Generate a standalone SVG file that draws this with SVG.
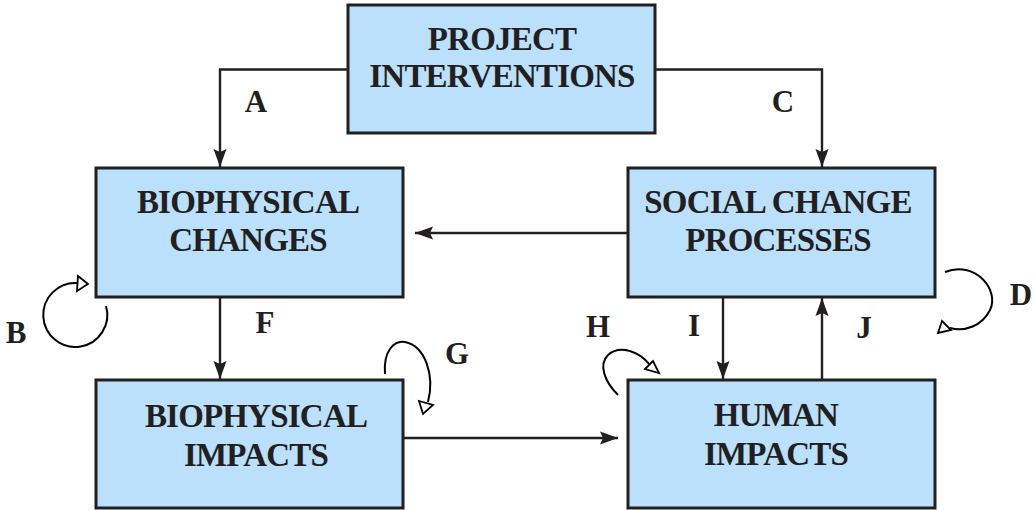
<svg xmlns="http://www.w3.org/2000/svg" width="1035" height="510" viewBox="0 0 1035 510">
<style>
.box{fill:#bae0fc;stroke:#231f20;stroke-width:3}
.t{font-family:"Liberation Serif","Times New Roman",serif;font-weight:bold;font-size:33px;letter-spacing:-0.8px;fill:#231f20;text-anchor:middle}
.lbl{font-family:"Liberation Serif","Times New Roman",serif;font-weight:bold;font-size:31px;fill:#231f20;text-anchor:middle}
.ln{fill:none;stroke:#231f20;stroke-width:2.4}
.cv{fill:none;stroke:#000;stroke-width:2}
.oh{fill:#fff;stroke:#000;stroke-width:1.8;stroke-linejoin:miter}
</style>
<defs>
<marker id="ah" markerUnits="userSpaceOnUse" markerWidth="18" markerHeight="13" refX="18" refY="6.5" orient="auto" overflow="visible">
<path d="M0,0 L18,6.5 L0,13 L3,6.5 z" fill="#231f20"/>
</marker>
</defs>
<g id="connectors">
<path class="ln" d="M348,69.5 H220 V167" marker-end="url(#ah)"/>
<path class="ln" d="M655,69.5 H822 V167" marker-end="url(#ah)"/>
<path class="ln" d="M628,233 H415" marker-end="url(#ah)"/>
<path class="ln" d="M220,297 V379" marker-end="url(#ah)"/>
<path class="ln" d="M403,438 H618" marker-end="url(#ah)"/>
<path class="ln" d="M723,297 V379" marker-end="url(#ah)"/>
<path class="ln" d="M822,380 V298" marker-end="url(#ah)"/>
<g id="loopB"><path class="cv" d="M106,306 A32,32 0 1 1 77,283"/><polygon class="oh" points="78,276 88,284 77,291"/></g>
<g id="loopD"><path class="cv" d="M945,272 C975,260 1000,290 990,310 C982,326 965,332 950,328"/><polygon class="oh" points="942,321 938,333 951,330"/></g>
<g id="loopG"><path class="cv" d="M385,374 C383,350 395,340 405,342 C425,346 435,375 428,402"/><polygon class="oh" points="419,401 423,414 433,405"/></g>
<g id="loopH"><path class="cv" d="M618,395 C605,382 598,365 608,355 C620,344 640,352 650,365"/><polygon class="oh" points="645,369 653,361 659,373"/></g>
</g>
<g id="labels">
<text class="lbl" x="256" y="112">A</text>
<text class="lbl" x="783" y="112">C</text>
<text class="lbl" x="16" y="343">B</text>
<text class="lbl" x="1021" y="305">D</text>
<text class="lbl" x="265" y="333">F</text>
<text class="lbl" x="457" y="364">G</text>
<text class="lbl" x="598" y="337">H</text>
<text class="lbl" x="694" y="336">I</text>
<text class="lbl" x="864" y="338">J</text>
</g>
<g id="project">
<rect class="box" x="348" y="5" width="307" height="128"/>
<text class="t" x="502" y="50">PROJECT</text>
<text class="t" x="502" y="87">INTERVENTIONS</text>
</g>
<g id="biochanges">
<rect class="box" x="96" y="168" width="307" height="129"/>
<text class="t" x="248" y="213">BIOPHYSICAL</text>
<text class="t" x="248" y="251">CHANGES</text>
</g>
<g id="social">
<rect class="box" x="628" y="168" width="307" height="129"/>
<text class="t" x="778" y="213">SOCIAL CHANGE</text>
<text class="t" x="778" y="251">PROCESSES</text>
</g>
<g id="bioimpacts">
<rect class="box" x="96" y="380" width="307" height="128"/>
<text class="t" x="256" y="427">BIOPHYSICAL</text>
<text class="t" x="256" y="466">IMPACTS</text>
</g>
<g id="humanimpacts">
<rect class="box" x="628" y="380" width="307" height="128"/>
<text class="t" x="776" y="426">HUMAN</text>
<text class="t" x="776" y="465">IMPACTS</text>
</g>
</svg>
